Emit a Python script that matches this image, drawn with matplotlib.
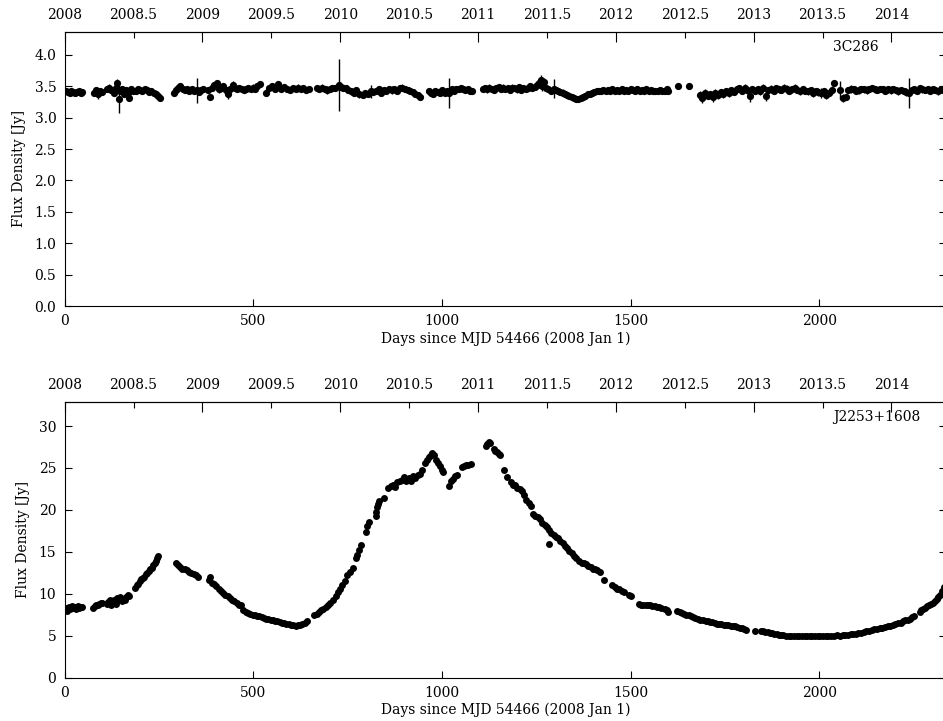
#!/usr/bin/env python3
# -*- coding: utf-8 -*-
"""
Light curves of 3C286 and J2253+1608, days since MJD 54466
"""

import matplotlib
matplotlib.use('Agg')
import matplotlib.pyplot as plt
import numpy as np

plt.rcParams['font.family'] = ['DejaVu Serif']
plt.rcParams['font.size'] = 10

#3C286 : days, flux density and error
days_3c = [3, 8, 13, 18, 23, 28, 33, 38, 43, 47,
           78, 83, 88, 93, 98,
           113, 118, 124, 130, 136, 140, 143, 147, 152, 157, 162, 167, 170, 175, 180,
           188, 194, 200, 206, 212, 218, 224, 230, 236, 242, 248, 254,
           289, 295, 301, 307, 313, 319, 325, 331, 337, 343, 350, 356, 362, 368,
           379, 385, 391, 397, 403, 409, 415, 421, 427, 433, 439, 445, 451, 457, 463, 469, 475, 481, 487, 493, 499, 505, 511, 517,
           533, 541, 549, 557, 565, 573, 581, 589, 597, 605,
           612, 619, 626, 633, 640, 647, 668, 675, 682, 689, 696, 703, 710, 717, 726, 731, 738, 745, 752, 759, 766, 773, 780,
           790, 797, 804, 811, 818, 825, 832, 839, 846, 853, 860, 867, 874, 881, 888, 895, 902, 909, 916, 923, 930, 937, 943,
           965, 971, 977, 983, 989, 995, 1001, 1007, 1013, 1020, 1026, 1032, 1038, 1044, 1050, 1056, 1062, 1068, 1074, 1080,
           1108, 1114, 1120, 1126, 1132, 1138, 1144, 1150, 1156, 1162, 1168, 1174, 1180, 1186, 1192, 1198,
           1204, 1210, 1216, 1222, 1228, 1234, 1240, 1246, 1252, 1258, 1262, 1266, 1270, 1276, 1282, 1288,
           1296, 1302, 1308, 1314, 1320, 1326, 1332, 1338, 1344, 1350, 1356, 1362, 1368, 1374, 1380, 1386,
           1392, 1398, 1404, 1410, 1416, 1422, 1428, 1434, 1440, 1446, 1452, 1458, 1464, 1470, 1476, 1482,
           1488, 1494, 1500, 1506, 1512, 1518, 1524, 1530, 1536, 1542, 1548, 1554, 1560, 1566,
           1572, 1578, 1584, 1590, 1596, 1600,
           1627, 1654,
           1683, 1690, 1697, 1704, 1711, 1718, 1725, 1732, 1739, 1746, 1753, 1760, 1767, 1774, 1781, 1788, 1795,
           1802, 1809, 1816, 1823, 1830, 1837, 1844, 1851, 1858, 1865, 1872, 1879, 1886, 1893, 1900, 1907,
           1914, 1921, 1928, 1935, 1942, 1949, 1956, 1963, 1970, 1977, 1984, 1991, 1998, 2005, 2012, 2019, 2026, 2033,
           2040,
           2056, 2063, 2070, 2077, 2084, 2091, 2098, 2105, 2112, 2119, 2126, 2133, 2140, 2147, 2154, 2161, 2168, 2175, 2182, 2189,
           2196, 2203, 2210, 2217, 2224, 2231, 2238, 2245, 2252, 2259, 2266, 2273, 2280, 2287, 2294, 2301, 2308, 2315, 2322, 2329]

flux_3c = [3.42, 3.41, 3.40, 3.42, 3.41, 3.40, 3.41, 3.42, 3.40, 3.41,
           3.40, 3.44, 3.38, 3.43, 3.41,
           3.45, 3.48, 3.44, 3.40, 3.47, 3.56, 3.30, 3.42, 3.45, 3.38, 3.44, 3.40, 3.31, 3.46, 3.43,
           3.43, 3.45, 3.44, 3.42, 3.46, 3.44, 3.41, 3.43, 3.40, 3.38, 3.35, 3.32,
           3.40, 3.44, 3.47, 3.50, 3.45, 3.44, 3.46, 3.43, 3.45, 3.42, 3.44, 3.41, 3.44, 3.46,
           3.44, 3.33, 3.48, 3.52, 3.55, 3.45, 3.47, 3.50, 3.44, 3.38, 3.46, 3.52, 3.48, 3.45, 3.47, 3.45, 3.44, 3.46, 3.47, 3.45, 3.48, 3.46, 3.50, 3.54,
           3.40, 3.47, 3.50, 3.45, 3.53, 3.46, 3.49, 3.46, 3.44, 3.47,
           3.46, 3.48, 3.45, 3.47, 3.44, 3.46, 3.47, 3.46, 3.48, 3.45, 3.44, 3.46, 3.48, 3.47, 3.52, 3.49, 3.48, 3.47, 3.44, 3.42, 3.40, 3.44, 3.37,
           3.36, 3.40, 3.38, 3.42, 3.41, 3.43, 3.45, 3.40, 3.44, 3.42, 3.46, 3.44, 3.45, 3.43, 3.47, 3.48, 3.45, 3.44, 3.43, 3.41, 3.38, 3.36, 3.33,
           3.42, 3.40, 3.38, 3.43, 3.41, 3.39, 3.44, 3.40, 3.42, 3.39, 3.45, 3.43, 3.46, 3.45, 3.47, 3.46, 3.44, 3.45, 3.43, 3.42,
           3.46, 3.47, 3.45, 3.48, 3.46, 3.44, 3.47, 3.49, 3.46, 3.48, 3.45, 3.47, 3.44, 3.48, 3.47, 3.45,
           3.49, 3.44, 3.47, 3.46, 3.48, 3.50, 3.47, 3.49, 3.52, 3.55, 3.60, 3.50, 3.57, 3.47, 3.45, 3.43,
           3.46, 3.44, 3.43, 3.41, 3.40, 3.38, 3.36, 3.34, 3.33, 3.31, 3.30, 3.29, 3.31, 3.33, 3.35, 3.37,
           3.38, 3.40, 3.41, 3.42, 3.43, 3.42, 3.44, 3.43, 3.44, 3.42, 3.45, 3.43, 3.44, 3.42, 3.45, 3.43,
           3.44, 3.42, 3.45, 3.44, 3.43, 3.45, 3.42, 3.44, 3.43, 3.45, 3.42, 3.44, 3.43, 3.42,
           3.43, 3.44, 3.42, 3.43, 3.45, 3.43,
           3.50, 3.51,
           3.36, 3.31, 3.40, 3.35, 3.38, 3.33, 3.40, 3.36, 3.41, 3.38, 3.42, 3.39, 3.44, 3.41, 3.45, 3.47, 3.43,
           3.48, 3.44, 3.34, 3.46, 3.43, 3.45, 3.42, 3.48, 3.35, 3.44, 3.46, 3.43, 3.47, 3.45, 3.44, 3.48,
           3.46, 3.43, 3.45, 3.47, 3.44, 3.42, 3.45, 3.43, 3.42, 3.44, 3.40, 3.43, 3.41, 3.39, 3.42, 3.36, 3.40, 3.44,
           3.55,
           3.44, 3.31, 3.33, 3.44, 3.46, 3.45, 3.43, 3.44, 3.46, 3.45, 3.44, 3.46, 3.47, 3.45, 3.44, 3.46, 3.45, 3.43, 3.45, 3.44,
           3.46, 3.44, 3.42, 3.44, 3.43, 3.41, 3.40, 3.44, 3.45, 3.43, 3.47, 3.45, 3.44, 3.46, 3.43, 3.45, 3.44, 3.42, 3.45, 3.44]

err_3c = [0.04, 0.03, 0.05, 0.03, 0.04, 0.03, 0.04, 0.05, 0.03, 0.04,
          0.05, 0.04, 0.09, 0.04, 0.05,
          0.04, 0.05, 0.04, 0.05, 0.04, 0.05, 0.22, 0.04, 0.05, 0.04, 0.05, 0.04, 0.04, 0.05, 0.04,
          0.04, 0.05, 0.04, 0.04, 0.05, 0.04, 0.04, 0.05, 0.04, 0.04, 0.04, 0.03,
          0.04, 0.05, 0.06, 0.05, 0.04, 0.05, 0.04, 0.05, 0.04, 0.05, 0.20, 0.05, 0.04, 0.05,
          0.05, 0.04, 0.06, 0.05, 0.04, 0.05, 0.06, 0.05, 0.04, 0.09, 0.05, 0.06, 0.05, 0.04, 0.05, 0.04, 0.05, 0.04, 0.05, 0.04, 0.05, 0.04, 0.05, 0.04,
          0.06, 0.04, 0.05, 0.04, 0.04, 0.05, 0.04, 0.05, 0.04, 0.05,
          0.04, 0.05, 0.04, 0.05, 0.04, 0.05, 0.05, 0.04, 0.05, 0.04, 0.06, 0.05, 0.04, 0.05, 0.42, 0.05, 0.05, 0.04, 0.05, 0.06, 0.05, 0.04, 0.05,
          0.05, 0.04, 0.05, 0.10, 0.04, 0.05, 0.04, 0.05, 0.04, 0.05, 0.04, 0.06, 0.04, 0.05, 0.04, 0.05, 0.04, 0.05, 0.04, 0.05, 0.04, 0.04, 0.03,
          0.05, 0.04, 0.05, 0.04, 0.05, 0.04, 0.05, 0.04, 0.05, 0.24, 0.05, 0.04, 0.05, 0.04, 0.05, 0.04, 0.05, 0.04, 0.05, 0.04,
          0.05, 0.04, 0.06, 0.05, 0.04, 0.05, 0.04, 0.05, 0.04, 0.05, 0.04, 0.05, 0.04, 0.05, 0.04, 0.05,
          0.04, 0.05, 0.04, 0.05, 0.04, 0.05, 0.04, 0.05, 0.06, 0.07, 0.08, 0.07, 0.06, 0.05, 0.04, 0.05,
          0.15, 0.04, 0.05, 0.04, 0.05, 0.04, 0.05, 0.04, 0.05, 0.04, 0.05, 0.04, 0.05, 0.04, 0.05, 0.04,
          0.05, 0.04, 0.05, 0.04, 0.05, 0.04, 0.05, 0.04, 0.05, 0.04, 0.05, 0.04, 0.05, 0.04, 0.05, 0.04,
          0.05, 0.04, 0.05, 0.04, 0.05, 0.04, 0.05, 0.04, 0.05, 0.04, 0.05, 0.04, 0.05, 0.04,
          0.04, 0.05, 0.04, 0.05, 0.04, 0.05,
          0.03, 0.03,
          0.06, 0.08, 0.05, 0.06, 0.05, 0.08, 0.05, 0.06, 0.05, 0.06, 0.05, 0.06, 0.05, 0.05, 0.06, 0.05, 0.05,
          0.05, 0.06, 0.09, 0.05, 0.06, 0.05, 0.06, 0.05, 0.09, 0.05, 0.06, 0.05, 0.05, 0.06, 0.05, 0.05,
          0.06, 0.05, 0.05, 0.06, 0.05, 0.06, 0.05, 0.05, 0.06, 0.05, 0.07, 0.05, 0.06, 0.08, 0.05, 0.07, 0.05, 0.06,
          0.04,
          0.15, 0.06, 0.05, 0.05, 0.06, 0.05, 0.05, 0.06, 0.05, 0.05, 0.06, 0.05, 0.05, 0.06, 0.05, 0.05, 0.06, 0.05, 0.05, 0.06,
          0.05, 0.05, 0.06, 0.05, 0.05, 0.06, 0.24, 0.05, 0.06, 0.05, 0.05, 0.06, 0.05, 0.05, 0.06, 0.05, 0.05, 0.06, 0.05, 0.05]

#J2253+1608 : days and flux density
days_j22 = [3, 7, 11, 15, 19, 23, 27, 31, 35, 39, 43, 47,
            76, 80, 84, 88, 92, 96, 100,
            112, 116, 120, 124, 128, 132, 136,
            140, 144, 148, 152, 156, 160, 164, 168, 172,
            187, 191, 195, 199, 203, 207, 211, 215, 219, 223, 227, 231, 235, 239, 243, 246, 248,
            294, 300, 306, 312, 318, 324, 330, 336, 342, 348, 354,
            382, 386, 390, 396, 402, 408, 414, 420, 426, 432, 438, 444, 450, 456, 462, 468,
            474, 480, 486, 492, 498, 504, 510, 516, 522, 528, 534,
            540, 546, 552, 558, 564, 570, 576, 582, 588, 594, 600, 606, 612, 618, 624, 630, 636, 642,
            662, 668, 674, 680, 686, 692, 698, 704,
            712, 718, 724, 730, 736, 742,
            748, 756, 764,
            772, 776, 780, 785,
            798, 802, 808,
            824, 826, 828, 830, 832,
            846,
            858, 864, 870, 876, 882, 888,
            894, 900, 906, 912, 918, 924, 930, 936, 942, 948,
            955, 960, 965, 970, 975, 980,
            985, 990, 995, 1000, 1004,
            1020, 1024, 1030, 1036, 1041,
            1052, 1058, 1064, 1070, 1076,
            1116, 1120, 1124, 1128,
            1138, 1142, 1146, 1150, 1154,
            1164, 1173,
            1182, 1188, 1194, 1200, 1206, 1212, 1218, 1224, 1230, 1236,
            1242, 1248, 1254, 1260,
            1266, 1272, 1278, 1284,
            1285,
            1290, 1296, 1302, 1308, 1314, 1320, 1326, 1332, 1338, 1344, 1350, 1356,
            1364, 1370, 1376, 1382, 1388, 1394, 1400, 1406, 1412, 1418,
            1430,
            1452, 1458, 1464, 1470, 1476, 1482,
            1496, 1502,
            1522, 1528, 1534, 1540, 1546, 1552, 1558, 1564, 1570, 1576, 1580,
            1592, 1596, 1600,
            1624, 1630, 1636, 1642, 1648, 1654, 1660, 1666, 1672, 1678, 1684,
            1693, 1699, 1705, 1711, 1717, 1723, 1729, 1735, 1741, 1747,
            1753, 1759, 1765, 1771, 1777, 1783, 1789, 1795, 1801, 1807,
            1831,
            1845, 1851, 1857, 1863, 1869, 1875, 1881, 1887, 1893, 1899,
            1905, 1912, 1919, 1926, 1933, 1940, 1947, 1954, 1961, 1968,
            1975, 1982, 1989, 1996, 2003, 2010, 2017, 2024, 2031, 2038,
            2046,
            2055, 2062, 2069, 2076, 2083, 2090, 2097, 2104, 2111, 2118, 2125,
            2132, 2139, 2146, 2153, 2160, 2167, 2174, 2181, 2188, 2195, 2202, 2209, 2216,
            2222, 2228, 2234, 2240, 2246, 2252,
            2266, 2271, 2276, 2281, 2286, 2291, 2296, 2301, 2306,
            2311, 2316, 2321, 2326, 2330]

flux_j22 = [8.3, 7.9, 8.4, 8.2, 8.5, 8.3, 8.4, 8.2, 8.5, 8.3, 8.4, 8.4,
            8.3, 8.5, 8.6, 8.7, 8.8, 8.9, 8.9,
            8.8, 9.0, 9.2, 8.7, 8.9, 9.3, 8.8,
            9.5, 9.2, 9.6, 9.1, 9.4, 9.3, 9.6, 9.8, 9.7,
            10.7, 11.0, 11.2, 11.5, 11.7, 11.9, 12.0, 12.3, 12.5, 12.7, 12.9, 13.1, 13.4, 13.6, 13.9, 14.2, 14.5,
            13.7, 13.4, 13.2, 13.0, 12.9, 12.8, 12.6, 12.5, 12.4, 12.2, 12.0,
            11.6, 12.0, 11.3, 11.2, 10.9, 10.6, 10.3, 10.1, 9.9, 9.7, 9.5, 9.3, 9.1, 8.9, 8.7, 8.6,
            8.0, 7.8, 7.7, 7.6, 7.5, 7.4, 7.35, 7.3, 7.2, 7.1, 7.0,
            6.95, 6.9, 6.85, 6.75, 6.7, 6.6, 6.55, 6.5, 6.4, 6.35, 6.3, 6.25, 6.2, 6.25, 6.3, 6.4, 6.5, 6.7,
            7.4, 7.6, 7.8, 8.0, 8.2, 8.4, 8.6, 8.9,
            9.3, 9.7, 10.2, 10.6, 11.0, 11.5,
            12.2, 12.6, 13.1,
            14.3, 14.6, 15.2, 15.8,
            17.4, 18.1, 18.6,
            19.3, 19.8, 20.3, 20.7, 21.0,
            21.4,
            22.6, 22.9, 23.0, 22.7, 23.3, 23.5,
            23.6, 23.9, 23.5, 23.8, 23.4, 24.0, 23.8, 24.2, 24.3, 24.7,
            25.6, 25.9, 26.3, 26.6, 26.8, 26.5,
            26.0, 25.6, 25.2, 24.8, 24.5,
            22.9, 23.4, 23.7, 24.0, 24.2,
            25.1, 25.2, 25.3, 25.4, 25.5,
            27.6, 27.9, 28.1, 28.0,
            27.2, 27.0, 26.9, 26.7, 26.6,
            24.8, 23.9,
            23.3, 23.0, 23.0, 22.6, 22.5, 22.3, 21.8, 21.2, 20.8, 20.4,
            19.5, 19.3, 19.1, 18.9,
            18.4, 18.2, 18.0, 17.6,
            15.9,
            17.2, 17.0, 16.8, 16.6, 16.3, 16.0, 15.7, 15.4, 15.1, 14.8, 14.5, 14.2,
            13.9, 13.7, 13.6, 13.5, 13.3, 13.2, 13.0, 12.9, 12.8, 12.6,
            11.6,
            11.0, 10.8, 10.6, 10.5, 10.3, 10.2,
            9.9, 9.7,
            8.8, 8.7, 8.7, 8.6, 8.6, 8.6, 8.5, 8.5, 8.4, 8.4, 8.3,
            8.2, 8.0, 7.8,
            7.9, 7.8, 7.7, 7.6, 7.5, 7.4, 7.3, 7.2, 7.1, 7.0, 6.9,
            6.8, 6.75, 6.7, 6.65, 6.6, 6.5, 6.4, 6.4, 6.35, 6.3,
            6.3, 6.25, 6.2, 6.15, 6.1, 6.0, 5.95, 5.9, 5.8, 5.65,
            5.5,
            5.55, 5.5, 5.45, 5.4, 5.3, 5.25, 5.2, 5.15, 5.1, 5.05,
            5.05, 5.0, 5.0, 4.98, 4.97, 5.0, 4.98, 5.0, 4.95, 4.97,
            5.0, 4.98, 4.96, 5.0, 4.97, 4.95, 4.98, 5.0, 4.97, 4.96,
            5.05,
            5.0, 5.05, 5.05, 5.1, 5.15, 5.15, 5.2, 5.3, 5.35, 5.45, 5.5,
            5.6, 5.7, 5.75, 5.8, 5.9, 5.95, 6.05, 6.1, 6.2, 6.3, 6.4, 6.5, 6.55,
            6.7, 6.8, 6.9, 7.0, 7.2, 7.3,
            7.8, 8.0, 8.2, 8.3, 8.5, 8.6, 8.8, 8.9, 9.1,
            9.4, 9.6, 9.9, 10.3, 10.8]

#Year labels for the top axis
year_major = [2008, 2009, 2010, 2011, 2012, 2013, 2014]
year_minor = [2008.5, 2009.5, 2010.5, 2011.5, 2012.5, 2013.5]

day_ticks = [0, 500, 1000, 1500, 2000]
xmax = 2336


def day2year(d):
    return 2008 + np.asarray(d) / 365.25


def year2day(y):
    return (np.asarray(y) - 2008) * 365.25


def style_axes(ax, ymax, yticks, yfmt, name):
    ax.set_xlim(0, xmax)
    ax.set_ylim(0, ymax)
    ax.set_xticks(day_ticks)
    ax.set_yticks(yticks)
    ax.set_yticklabels([yfmt.format(v) for v in yticks])
    ax.tick_params(direction='in', top=False, right=True, length=5, width=0.8, pad=6)
    ax.spines['right'].set_visible(False)
    ax.set_xlabel('Days since MJD 54466 (2008 Jan 1)', labelpad=2)
    ax.set_ylabel('Flux Density [Jy]', labelpad=6)
    ax.text(0.872, 0.944, name, transform=ax.transAxes, ha='left', va='center')

    #Year axis on top
    sec = ax.secondary_xaxis('top', functions=(day2year, year2day))
    sec.set_xticks(year_major, labels=[str(y) for y in year_major])
    sec.set_xticks(year_minor, labels=[str(y) for y in year_minor], minor=True)
    sec.tick_params(which='major', direction='in', length=7, width=0.8, pad=7)
    sec.tick_params(which='minor', direction='in', length=4, width=0.8, pad=7, labelsize=10)
    return sec


fig = plt.figure(figsize=(9.43, 7.21), dpi=100)

W = 943.0
H = 721.0
x0 = 64.6
x1 = 946.0

ax1 = fig.add_axes([x0 / W, 1 - 306 / H, (x1 - x0) / W, (306 - 31.7) / H])
ax1.errorbar(days_3c, flux_3c, yerr=err_3c, fmt='o', color='k', ms=5.2, mew=0,
             elinewidth=1.0, capsize=0)
style_axes(ax1, 4.37, [0.0, 0.5, 1.0, 1.5, 2.0, 2.5, 3.0, 3.5, 4.0], '{:.1f}', '3C286')

ax2 = fig.add_axes([x0 / W, 1 - 677.5 / H, (x1 - x0) / W, (677.5 - 401.7) / H])
ax2.plot(days_j22, flux_j22, 'o', color='k', ms=5.0, mew=0)
style_axes(ax2, 32.9, [0, 5, 10, 15, 20, 25, 30], '{:d}', 'J2253+1608')

plt.savefig('out.png', dpi=100)
